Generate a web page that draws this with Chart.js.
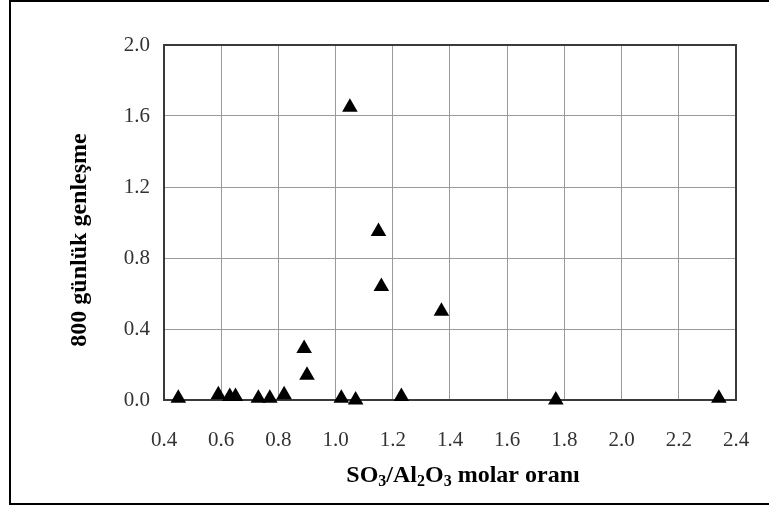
<!DOCTYPE html>
<html lang="tr">
<head>
    <meta charset="UTF-8">
    <title>800 günlük genleşme</title>
    <script src="https://cdn.jsdelivr.net/npm/chart.js"></script>
    <style>
        body {
            margin: 0;
            padding: 0;
            background: #fff;
            overflow: hidden;
        }
        .chart-wrapper {
            width: 769px;
            height: 506px;
            position: relative;
        }
    </style>
</head>
<body>
    <div class="chart-wrapper">
        <canvas id="main-chart"></canvas>
    </div>
    <script>
        // Veriler
        const molarRatio = [0.45, 0.59, 0.63, 0.65, 0.73, 0.77, 0.82, 0.89, 0.90, 1.02, 1.05, 1.07, 1.15, 1.16, 1.23, 1.37, 1.77, 2.34];
        const expansion = [0.01, 0.03, 0.02, 0.02, 0.01, 0.01, 0.03, 0.29, 0.14, 0.01, 1.65, 0.00, 0.95, 0.64, 0.02, 0.50, 0.00, 0.01];
        const xTicks = [0.4, 0.6, 0.8, 1.0, 1.2, 1.4, 1.6, 1.8, 2.0, 2.2, 2.4];
        const yTicks = [0.0, 0.4, 0.8, 1.2, 1.6, 2.0];
        const yTitle = '800 günlük genleşme';
        // x başlığı parçaları: [metin, alt simge mi]
        const xTitleParts = [['SO', false], ['3', true], ['/Al', false], ['2', true], ['O', false], ['3', true], [' molar oranı', false]];

        const serif = "'Liberation Serif', 'Times New Roman', serif";

        // Çerçeve, çizim alanı kenarlığı ve eksen başlıkları
        const decorations = {
            id: 'decorations',
            beforeDatasetsDraw(chart) {
                const ctx = chart.ctx;
                const a = chart.chartArea;
                ctx.save();
                ctx.strokeStyle = '#3a3a3a';
                ctx.lineWidth = 2;
                ctx.strokeRect(a.left, a.top, a.right - a.left, a.bottom - a.top);
                ctx.restore();
            },
            afterDraw(chart) {
                const ctx = chart.ctx;
                const a = chart.chartArea;
                ctx.save();
                // dış çerçeve
                ctx.strokeStyle = '#000';
                ctx.lineWidth = 2;
                ctx.strokeRect(10, 1, 770, 503);

                // y ekseni başlığı
                ctx.fillStyle = '#000';
                ctx.font = 'bold 24px ' + serif;
                ctx.textAlign = 'center';
                ctx.textBaseline = 'middle';
                ctx.translate(80, 240);
                ctx.rotate(-Math.PI / 2);
                ctx.fillText(yTitle, 0, 0);
                ctx.restore();

                // x ekseni başlığı (alt simgeli)
                ctx.save();
                ctx.fillStyle = '#000';
                ctx.textBaseline = 'alphabetic';
                ctx.textAlign = 'left';
                const big = 'bold 24px ' + serif;
                const small = 'bold 16px ' + serif;
                let total = 0;
                xTitleParts.forEach(p => {
                    ctx.font = p[1] ? small : big;
                    total += ctx.measureText(p[0]).width;
                });
                let x = 463 - total / 2;
                const base = 482;
                xTitleParts.forEach(p => {
                    ctx.font = p[1] ? small : big;
                    ctx.fillText(p[0], x, p[1] ? base + 4 : base);
                    x += ctx.measureText(p[0]).width;
                });
                ctx.restore();
            }
        };

        const ctx = document.getElementById('main-chart').getContext('2d');
        new Chart(ctx, {
            type: 'scatter',
            data: {
                datasets: [{
                    data: molarRatio.map((v, i) => ({ x: v, y: expansion[i] })),
                    pointStyle: 'triangle',
                    pointRadius: 9,
                    pointHoverRadius: 9,
                    backgroundColor: '#000',
                    borderColor: '#000',
                    borderWidth: 0,
                    clip: false
                }]
            },
            options: {
                responsive: true,
                maintainAspectRatio: false,
                animation: false,
                layout: { padding: { left: 0, right: 33, top: 45, bottom: 0 } },
                plugins: {
                    legend: { display: false },
                    tooltip: { enabled: false }
                },
                scales: {
                    x: {
                        type: 'linear',
                        min: 0.4,
                        max: 2.4,
                        afterBuildTicks(scale) {
                            scale.ticks = xTicks.map(v => ({ value: v }));
                        },
                        afterFit(scale) {
                            scale.height = 106;
                            scale.paddingLeft = 0;
                            scale.paddingRight = 0;
                        },
                        grid: { color: '#9a9a9a', lineWidth: 1, drawTicks: false },
                        border: { display: false },
                        ticks: {
                            padding: 28,
                            color: '#333',
                            font: { family: serif, size: 21 },
                            maxRotation: 0,
                            callback: v => v.toFixed(1)
                        }
                    },
                    y: {
                        min: 0,
                        max: 2.0,
                        afterBuildTicks(scale) {
                            scale.ticks = yTicks.map(v => ({ value: v }));
                        },
                        afterFit(scale) {
                            scale.width = 164;
                            scale.paddingTop = 0;
                            scale.paddingBottom = 0;
                        },
                        grid: { color: '#9a9a9a', lineWidth: 1, drawTicks: false },
                        border: { display: false },
                        ticks: {
                            padding: 14,
                            color: '#333',
                            font: { family: serif, size: 21 },
                            callback: v => v.toFixed(1)
                        }
                    }
                }
            },
            plugins: [decorations]
        });
    </script>
</body>
</html>
